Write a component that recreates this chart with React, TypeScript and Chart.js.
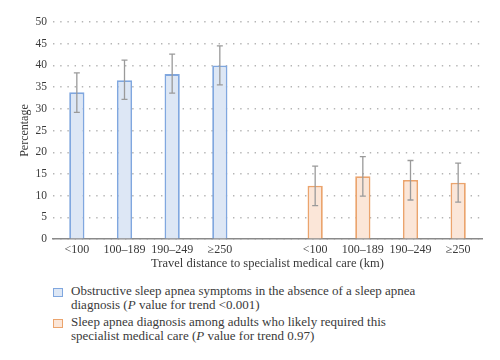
import React, { useEffect, useRef } from "react";
import { Chart, registerables } from "chart.js";

Chart.register(...registerables);

const categories = ["<100", "100–189", "190–249", "≥250"];
const symptoms = [33.8, 36.6, 38.0, 40.0];
const symptomsLow = [29.2, 32.2, 33.6, 35.5];
const symptomsHigh = [38.3, 41.2, 42.6, 44.5];
const diagnosis = [12.3, 14.5, 13.6, 13.0];
const diagnosisLow = [7.7, 9.9, 9.0, 8.5];
const diagnosisHigh = [16.8, 19.0, 18.1, 17.5];
const yTicks = [0, 5, 10, 15, 20, 25, 30, 35, 40, 45, 50];

const FONT = "'Liberation Serif', 'Times New Roman', serif";
const TEXT = "#3a3a3a";

const labels = [...categories, "", ...categories];
const pad = (arr: (number | null)[], first: boolean) =>
  first ? [...arr, null, null, null, null, null] : [null, null, null, null, null, ...arr];

const errorBars = {
  id: "errorBars",
  afterDatasetsDraw(chart: any) {
    const ctx = chart.ctx;
    const y = chart.scales.y;
    chart.data.datasets.forEach((ds: any, di: number) => {
      const meta = chart.getDatasetMeta(di);
      ds.data.forEach((v: any, i: number) => {
        if (v === null || v === undefined) return;
        const lo = ds.errLow[i];
        const hi = ds.errHigh[i];
        const x = meta.data[i].x;
        const y1 = y.getPixelForValue(lo);
        const y2 = y.getPixelForValue(hi);
        ctx.save();
        ctx.strokeStyle = "#9a9a9a";
        ctx.lineWidth = 1.3;
        ctx.beginPath();
        ctx.moveTo(x, y1);
        ctx.lineTo(x, y2);
        ctx.moveTo(x - 3, y1);
        ctx.lineTo(x + 3, y1);
        ctx.moveTo(x - 3, y2);
        ctx.lineTo(x + 3, y2);
        ctx.stroke();
        ctx.restore();
      });
    });
  },
};

export default function App() {
  const ref = useRef<HTMLCanvasElement>(null);
  useEffect(() => {
    document.body.style.margin = "0";
    const chart = new Chart(ref.current!, {
      type: "bar",
      data: {
        labels,
        datasets: [
          {
            label: "Obstructive sleep apnea symptoms",
            data: pad(symptoms, true),
            errLow: pad(symptomsLow, true),
            errHigh: pad(symptomsHigh, true),
            backgroundColor: "#dde7f5",
            borderColor: "#80a7df",
            borderWidth: 1.8,
            grouped: false,
            barPercentage: 0.32,
            categoryPercentage: 1,
          } as any,
          {
            label: "Sleep apnea diagnosis",
            data: pad(diagnosis, false),
            errLow: pad(diagnosisLow, false),
            errHigh: pad(diagnosisHigh, false),
            backgroundColor: "#fbe6d8",
            borderColor: "#eba46d",
            borderWidth: 1.8,
            grouped: false,
            barPercentage: 0.32,
            categoryPercentage: 1,
          } as any,
        ],
      },
      options: {
        animation: false,
        responsive: false,
        maintainAspectRatio: false,
        layout: { padding: { top: 22, right: 18, left: 0, bottom: 2.5 } },
        plugins: { legend: { display: false }, tooltip: { enabled: false } },
        scales: {
          x: {
            grid: { display: false, drawTicks: false },
            border: { display: true, color: "#8a8a8a", width: 1.5 },
            ticks: { color: TEXT, font: { family: FONT, size: 12 }, padding: 3.5, maxRotation: 0, autoSkip: false },
            title: {
              display: true,
              text: "Travel distance to specialist medical care (km)",
              color: TEXT,
              font: { family: FONT, size: 12.5 },
              padding: { top: -4, bottom: 0 },
            },
          },
          y: {
            min: 0,
            max: 50,
            afterBuildTicks: (s: any) => {
              s.ticks = yTicks.map((v) => ({ value: v }));
            },
            afterFit: (s: any) => {
              s.width = 53;
            },
            grid: { color: "#b5b5b5", lineWidth: 1.4, drawTicks: false },
            border: { display: false, dash: [1.4, 5.8] },
            ticks: { color: TEXT, font: { family: FONT, size: 11.5 }, padding: 6 },
            title: {
              display: true,
              text: "Percentage",
              color: TEXT,
              font: { family: FONT, size: 12 },
              padding: { top: 18, bottom: 0 },
            },
          },
        },
      } as any,
      plugins: [errorBars],
    });
    return () => chart.destroy();
  }, []);

  const box = (bg: string, bd: string) => ({
    position: "absolute" as const,
    left: 0,
    top: 4,
    width: 8,
    height: 7,
    background: bg,
    border: `1.5px solid ${bd}`,
  });
  const item = {
    position: "absolute" as const,
    left: 53,
    width: 370,
    fontFamily: FONT,
    fontSize: 13,
    lineHeight: "14px",
    color: TEXT,
  };
  return (
    <div style={{ position: "relative", width: 500, height: 360, background: "#fff" }}>
      <canvas ref={ref} width={500} height={274} style={{ display: "block" }} />
      <div style={{ ...item, top: 284 }}>
        <div style={box("#dde7f5", "#80a7df")} />
        <div style={{ marginLeft: 18 }}>
          Obstructive sleep apnea symptoms in the absence of a sleep apnea diagnosis (<i>P</i> value for trend &lt;0.001)
        </div>
      </div>
      <div style={{ ...item, top: 315 }}>
        <div style={box("#fbe6d8", "#eba46d")} />
        <div style={{ marginLeft: 18 }}>
          Sleep apnea diagnosis among adults who likely required this specialist medical care (<i>P</i> value for trend 0.97)
        </div>
      </div>
    </div>
  );
}
